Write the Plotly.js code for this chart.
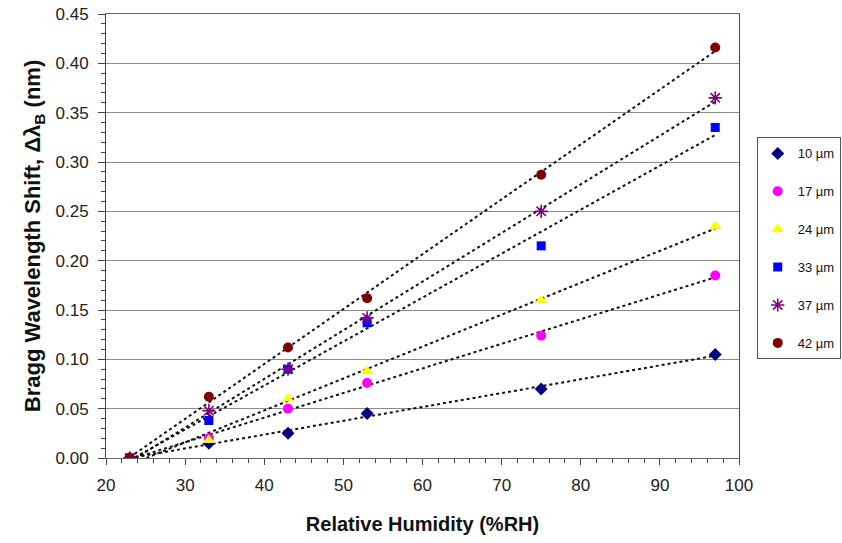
<!DOCTYPE html>
<html>
<head>
<meta charset="utf-8">
<script src="https://cdn.plot.ly/plotly-3.0.1.min.js"></script>
<style>html,body{margin:0;padding:0;background:#fff;}#chart{width:842px;height:543px;}</style>
</head>
<body>
<div id="chart"></div>
<script>
const humidity = [23, 33, 43, 53, 75, 97];
const seriesNames = ["10 µm", "17 µm", "24 µm", "33 µm", "37 µm", "42 µm"];
const s10 = [0, 0.015, 0.025, 0.045, 0.070, 0.105];
const s17 = [0, 0.020, 0.050, 0.076, 0.124, 0.185];
const s24 = [0, 0.018, 0.060, 0.088, 0.160, 0.235];
const s33 = [0, 0.038, 0.090, 0.137, 0.215, 0.335];
const s37 = [0, 0.048, 0.090, 0.142, 0.250, 0.365];
const s42 = [0, 0.062, 0.112, 0.162, 0.287, 0.416];

const seriesValues = [s10, s17, s24, s33, s37, s42];
const markerStyles = [
  {symbol: "diamond", color: "#000080", size: 10},
  {symbol: "circle", color: "#FF00FF", size: 10},
  {symbol: "triangle-up", color: "#FFFF00", size: 11},
  {symbol: "square", color: "#0000FF", size: 9},
  {symbol: "asterisk-open", color: "#800080", size: 11},
  {symbol: "circle", color: "#800000", size: 10}
];

function linfit(xs, ys) {
  const n = xs.length;
  let sx = 0, sy = 0, sxx = 0, sxy = 0;
  for (let i = 0; i < n; i++) { sx += xs[i]; sy += ys[i]; sxx += xs[i]*xs[i]; sxy += xs[i]*ys[i]; }
  const m = (n*sxy - sx*sy) / (n*sxx - sx*sx);
  const b = (sy - m*sx) / n;
  return [m, b];
}

const traces = [];
seriesValues.forEach((ys, i) => {
  const [m, b] = linfit(humidity, ys);
  const xr = [humidity[0], humidity[humidity.length-1]];
  traces.push({
    x: xr, y: xr.map(x => m*x + b), mode: "lines", showlegend: false,
    line: {color: "#111", width: 2, dash: "dot"}, hoverinfo: "skip"
  });
});
seriesValues.forEach((ys, i) => {
  const st = markerStyles[i];
  traces.push({
    x: humidity, y: ys, mode: "markers", name: seriesNames[i], legendgroup: "g" + i,
    marker: {symbol: st.symbol, color: st.color, size: st.size,
      line: {color: st.color, width: st.symbol === "asterisk-open" ? 1.6 : 0}}
  });
});

const titleFont = {color: "#111", family: "Liberation Sans, Arial, sans-serif", weight: "bold"};

const layout = {
  width: 842, height: 543,
  margin: {l: 106, r: 103, t: 14, b: 85, autoexpand: false},
  paper_bgcolor: "#fff", plot_bgcolor: "#fff",
  font: {family: "Liberation Sans, Arial, sans-serif", color: "#222"},
  showlegend: true,
  legend: {
    x: 1.028, y: 0.722, xanchor: "left", yanchor: "top",
    bordercolor: "#555", borderwidth: 1, bgcolor: "#fff",
    font: {size: 13, color: "#111"}, tracegroupgap: 18,
    itemwidth: 30
  },
  xaxis: {
    range: [20, 100], dtick: 10, tick0: 20,
    showgrid: false, zeroline: false,
    showline: true, linecolor: "#666", linewidth: 1, mirror: true,
    ticks: "outside", ticklen: 6, tickcolor: "#444", ticklabelstandoff: 6,
    minor: {dtick: 2, ticks: "outside", ticklen: 4, tickcolor: "#444", showgrid: false},
    tickfont: {size: 17, color: "#222"},
    title: {text: "Relative Humidity (%RH)", font: Object.assign({size: 20}, titleFont), standoff: 22}
  },
  yaxis: {
    range: [0, 0.45], dtick: 0.05, tickformat: ".2f",
    showgrid: true, gridcolor: "#8a8a8a", gridwidth: 1,
    zeroline: false,
    showline: true, linecolor: "#444", linewidth: 1, mirror: true,
    ticks: "outside", ticklen: 7, tickcolor: "#444", ticklabelstandoff: 6,
    minor: {dtick: 0.01, ticks: "outside", ticklen: 4, tickcolor: "#444", showgrid: false},
    tickfont: {size: 17, color: "#222"},
    title: {text: "Bragg Wavelength Shift, Δλ<sub>B</sub> (nm)", font: Object.assign({size: 22}, titleFont), standoff: 8}
  }
};

Plotly.newPlot("chart", traces, layout, {displayModeBar: false, staticPlot: true});
</script>
</body>
</html>
